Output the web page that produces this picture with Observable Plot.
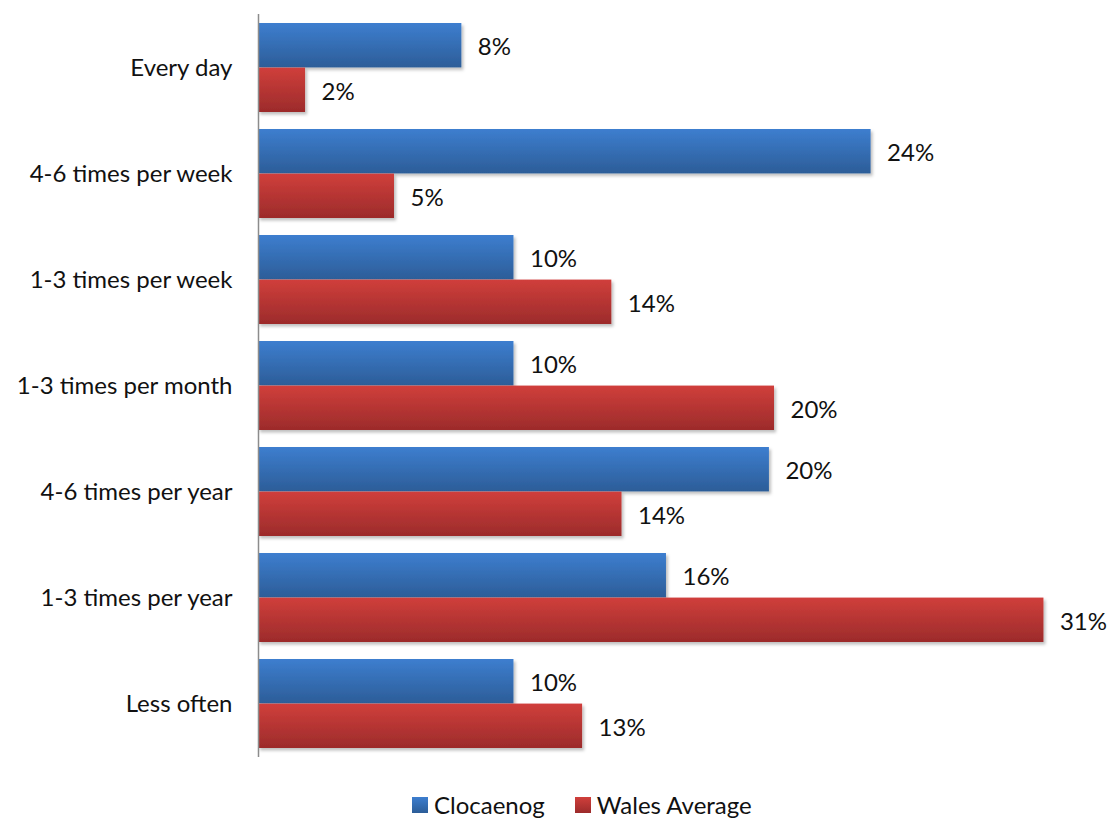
<!DOCTYPE html>
<html>
<head>
<meta charset="utf-8">
<script src="https://cdn.jsdelivr.net/npm/d3@7"></script>
<script src="https://cdn.jsdelivr.net/npm/@observablehq/plot@0.6"></script>
<style>
  html, body { margin: 0; padding: 0; background: #fff; overflow: hidden; }
  #wrap { position: relative; width: 1107px; height: 821px; }
  #legend { position: absolute; left: 412px; top: 791px; line-height: 27px; font-family: Lato, "Open Sans", sans-serif; font-size: 24px; color: #111; display: flex; align-items: center; white-space: nowrap; }
  #legend .sw { display: inline-block; width: 16px; height: 16px; margin-right: 6px; }
  #legend .item { display: flex; align-items: center; margin-right: 30px; }
</style>
</head>
<body>
<div id="wrap"><div id="chart"></div><div id="legend"></div></div>
<script>
const categories = ["Every day", "4-6 times per week", "1-3 times per week", "1-3 times per month", "4-6 times per year", "1-3 times per year", "Less often"];
const seriesNames = ["Clocaenog", "Wales Average"];
const clocaenog = [8.0, 24.1, 10.05, 10.05, 20.1, 16.05, 10.05];
const wales = [1.85, 5.35, 13.9, 20.3, 14.3, 30.9, 12.75];
const clocaenogLabels = ["8%", "24%", "10%", "10%", "20%", "16%", "10%"];
const walesLabels = ["2%", "5%", "14%", "20%", "14%", "31%", "13%"];

const width = 1107, height = 790;
const marginTop = 14, marginBottom = 33, marginLeft = 258, marginRight = 0;
const padInner = 0.16, padOuter = 0.08;
const step = (height - marginTop - marginBottom) / (categories.length - padInner + 2 * padOuter);
const half = step * (1 - padInner) / 2;

const dataC = categories.map((c, i) => ({category: c, value: clocaenog[i], label: clocaenogLabels[i]}));
const dataW = categories.map((c, i) => ({category: c, value: wales[i], label: walesLabels[i]}));

const svg = Plot.plot({
  width, height, marginTop, marginBottom, marginLeft, marginRight,
  style: {fontFamily: "Lato, 'Open Sans', sans-serif", fontSize: "24px", color: "#111", background: "#fff"},
  x: {domain: [0, 33.4], axis: null},
  y: {domain: categories, paddingInner: padInner, paddingOuter: padOuter, tickSize: 0, tickPadding: 26, label: null},
  marks: [
    Plot.barX(dataC, {y: "category", x: "value", fill: "url(#gradBlue)", insetBottom: half}),
    Plot.barX(dataW, {y: "category", x: "value", fill: "url(#gradRed)", insetTop: half}),
    Plot.text(dataC, {y: "category", x: "value", text: "label", dx: 16, dy: -half / 2 + 2, textAnchor: "start", fill: "#111", fontSize: 24}),
    Plot.text(dataW, {y: "category", x: "value", text: "label", dx: 16, dy: half / 2 + 2, textAnchor: "start", fill: "#111", fontSize: 24}),
    Plot.ruleX([0], {stroke: "#8c8c8c", strokeWidth: 1.5})
  ]
});

const s = d3.select(svg);
const defs = s.insert("defs", ":first-child");
function grad(id, top, bottom) {
  const g = defs.append("linearGradient").attr("id", id).attr("x1", 0).attr("y1", 0).attr("x2", 0).attr("y2", 1);
  g.append("stop").attr("offset", "0%").attr("stop-color", top);
  g.append("stop").attr("offset", "100%").attr("stop-color", bottom);
}
grad("gradBlue", "#3d7ecf", "#2c5d98");
grad("gradRed", "#d03f3b", "#9c2b2b");
const f = defs.append("filter").attr("id", "shadow").attr("x", "-5%").attr("y", "-20%").attr("width", "115%").attr("height", "150%");
f.append("feDropShadow").attr("dx", 2).attr("dy", 2.5).attr("stdDeviation", 1.5).attr("flood-color", "#000").attr("flood-opacity", 0.25);
s.selectAll("g[aria-label='bar'] rect").attr("filter", "url(#shadow)");
s.selectAll("g[aria-label='y-axis'] text, g[aria-label='y-axis tick label'] text").attr("fill", "#111");

document.getElementById("chart").appendChild(svg);

const legend = document.getElementById("legend");
seriesNames.forEach((n, i) => {
  const item = document.createElement("span");
  item.className = "item";
  const sw = document.createElement("span");
  sw.className = "sw";
  sw.style.background = `linear-gradient(${i ? "#d03f3b, #9c2b2b" : "#3d7ecf, #2c5d98"})`;
  item.appendChild(sw);
  item.appendChild(document.createTextNode(n));
  legend.appendChild(item);
});
</script>
</body>
</html>
